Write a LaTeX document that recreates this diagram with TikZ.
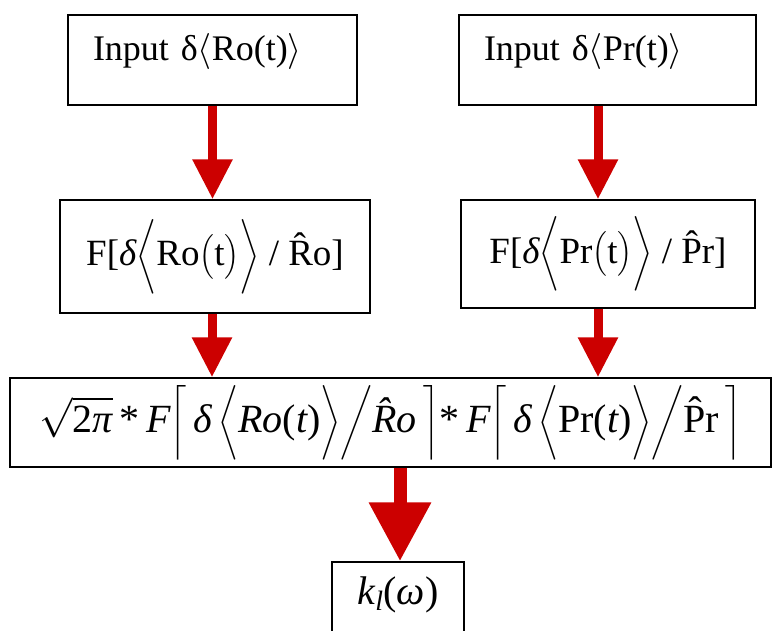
\documentclass[tikz,border=0pt]{standalone}
\usepackage{fix-cm}
\usepackage{amsmath}
\usepackage{fontspec}
\setmainfont{Liberation Serif}
\usepackage{tikz}
\usetikzlibrary{arrows.meta,positioning}
\definecolor{ArrRed}{RGB}{204,0,0}
\newcommand{\ti}[1]{\text{\itshape #1}}

\begin{document}
\begin{tikzpicture}[x=1pt,y=1pt,
  box/.style={draw,line width=1.4pt,inner sep=0pt,font=\fontsize{37}{42}\selectfont},
  inbox/.style={box,align=left,inner xsep=25pt,minimum height=90pt,text height=27pt,text depth=25pt,font=\fontsize{36}{41}\selectfont},
  flow/.style={ArrRed,line width=9pt,-{Triangle[width=38pt,length=40pt]}},
  bigflow/.style={ArrRed,line width=13pt,-{Triangle[width=59pt,length=59pt]}}]
\useasboundingbox(0,0)rectangle(772,630);
% input boxes
\node[inbox,text width=239pt](inRo)at(212.5,570){Input δ$\langle$Ro(t)$\rangle$};
\node[inbox,text width=247pt](inPr)at(607.5,570){Input δ$\langle$Pr(t)$\rangle$};
% Fourier boxes
\node[box,minimum width=310pt,minimum height=113pt](fRo)at(215,373.5)
  {F[\ti{δ}$\Bigl\langle$Ro$\bigl($t$\bigr)\Bigr\rangle$ / \^{R}o]};
\node[box,minimum width=294pt,minimum height=108pt](fPr)at(608,376)
  {F[\ti{δ}$\Bigl\langle$Pr$\bigl($t$\bigr)\Bigr\rangle$ / \^{P}r]};
% product box
\node[box,minimum width=761pt,minimum height=89pt,font=\fontsize{40}{46}\selectfont](prod)at(390.5,207.5)
  {$\sqrt{\text{2}\ti{π}}\,\text{*}\,\ti{F}\Bigl\lceil\,\ti{δ}\,\Bigl\langle\ti{Ro}\text{(}\ti{t}\text{)}\Bigr\rangle\Big/\ti{\^{R}o}\,\Bigr\rceil
   \text{*}\,\ti{F}\Bigl\lceil\,\ti{δ}\,\Bigl\langle\text{Pr(}\ti{t}\text{)}\Bigr\rangle\Big/\text{\^{P}r}\,\Bigr\rceil$};
% result
\node[box,minimum width=132pt,minimum height=90pt,text height=24pt,text depth=30pt,font=\fontsize{40}{46}\selectfont](kl)at(398,23)
  {$\ti{k}_{\ti{l}}\text{(}\ti{ω}\text{)}$};
% arrows
\draw[flow](inRo.south)--(inRo.south|-fRo.north);
\draw[flow](inPr.south-|598,0)--(598,0|-fPr.north);
\draw[flow](fRo.south-|212,0)--(212,0|-prod.north);
\draw[flow](fPr.south-|598,0)--(598,0|-prod.north);
\draw[bigflow](prod.south-|400,0)--(kl.north-|400,0);
\end{tikzpicture}
\end{document}
